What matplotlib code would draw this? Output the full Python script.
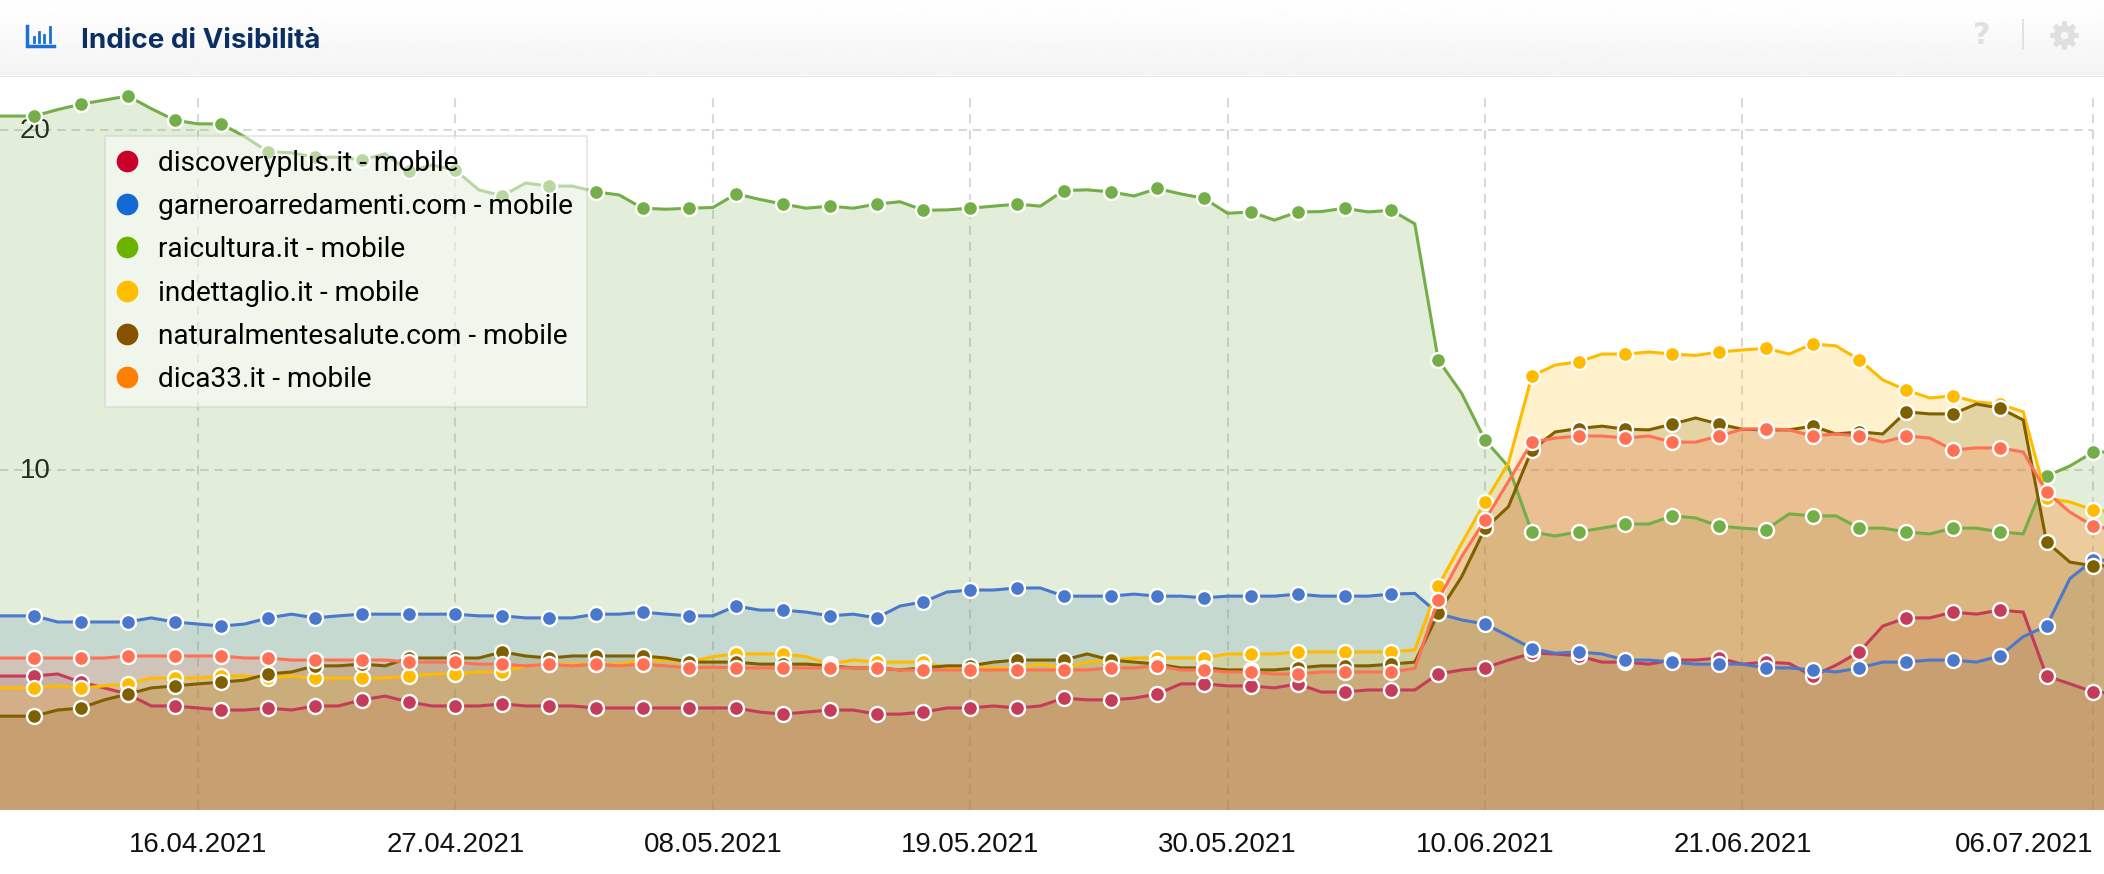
import numpy as np
import matplotlib
matplotlib.use('Agg')
import matplotlib.pyplot as plt
import matplotlib.dates as mdates
from matplotlib.lines import Line2D
from matplotlib.transforms import ScaledTranslation

W, H = 2104, 874
plt.rcParams['lines.scale_dashes'] = False

title = 'Indice di Visibilità'
series_names = ['discoveryplus.it - mobile', 'garneroarredamenti.com - mobile', 'raicultura.it - mobile',
                'indettaglio.it - mobile', 'naturalmentesalute.com - mobile', 'dica33.it - mobile']
line_colors = ['#c43c5a', '#4a78cc', '#74ae48', '#ffbb00', '#7f6000', '#ff7055']
legend_colors = ['#c8002a', '#1469d2', '#6cb200', '#ffbf00', '#875200', '#ff8000']
tick_dates = ['2021-04-16', '2021-04-27', '2021-05-08', '2021-05-19', '2021-05-30', '2021-06-10', '2021-06-21', '2021-07-06']
tick_labels = ['16.04.2021', '27.04.2021', '08.05.2021', '19.05.2021', '30.05.2021', '10.06.2021', '21.06.2021', '06.07.2021']
y_ticks = [10, 20]

dates = np.arange(np.datetime64('2021-04-07'), np.datetime64('2021-07-08'))

discoveryplus = [3.94,3.94,3.94,4.0,3.76,3.59,3.41,3.06,3.06,3.0,
    2.94,2.94,3.0,2.94,3.06,3.06,3.24,3.35,3.18,3.06,
    3.06,3.06,3.12,3.06,3.06,3.06,3.0,3.0,3.0,3.0,
    3.0,3.0,3.0,2.88,2.82,2.88,2.94,2.94,2.82,2.82,
    2.88,3.0,3.0,3.06,3.0,3.06,3.29,3.24,3.24,3.29,
    3.41,3.71,3.71,3.65,3.65,3.59,3.71,3.47,3.47,3.53,
    3.53,3.53,4.0,4.12,4.18,4.41,4.61,4.59,4.53,4.35,
    4.35,4.29,4.41,4.41,4.47,4.29,4.35,4.31,3.94,4.26,
    4.65,5.41,5.65,5.65,5.82,5.76,5.88,5.82,3.94,3.71,
    3.47,3.43]
garnero = [5.71,5.71,5.71,5.53,5.53,5.53,5.53,5.65,5.53,5.47,
    5.41,5.47,5.65,5.76,5.65,5.71,5.76,5.76,5.76,5.76,
    5.76,5.71,5.71,5.65,5.65,5.65,5.76,5.76,5.82,5.76,
    5.71,5.71,6.0,5.88,5.88,5.82,5.71,5.76,5.65,6.0,
    6.12,6.41,6.47,6.47,6.53,6.53,6.29,6.29,6.29,6.35,
    6.29,6.29,6.24,6.29,6.29,6.29,6.35,6.29,6.29,6.29,
    6.35,6.37,5.78,5.59,5.47,5.12,4.75,4.61,4.65,4.59,
    4.41,4.41,4.35,4.29,4.29,4.29,4.18,4.18,4.12,4.06,
    4.18,4.35,4.35,4.41,4.41,4.35,4.53,5.10,5.41,6.81,
    7.35,7.35]
raicultura = [20.41,20.41,20.41,20.6,20.76,20.88,21.0,20.63,20.29,20.18,
    20.18,19.8,19.36,19.33,19.2,19.2,19.12,19.3,18.78,18.97,
    18.82,18.24,18.06,18.44,18.35,18.35,18.18,18.09,17.7,17.67,
    17.7,17.72,18.12,17.96,17.82,17.7,17.76,17.7,17.82,17.89,
    17.64,17.65,17.7,17.76,17.82,17.76,18.22,18.24,18.18,18.06,
    18.28,18.12,17.99,17.55,17.59,17.35,17.59,17.6,17.7,17.59,
    17.64,17.24,13.24,12.26,10.88,10.1,8.18,8.06,8.18,8.29,
    8.41,8.41,8.65,8.59,8.35,8.29,8.24,8.71,8.65,8.65,
    8.29,8.29,8.18,8.12,8.29,8.29,8.18,8.12,9.82,10.12,
    10.53,10.53]
indettaglio = [3.59,3.59,3.59,3.65,3.59,3.65,3.71,3.88,3.88,3.88,
    3.94,3.94,3.88,3.94,3.88,3.88,3.88,3.88,3.94,4.0,
    4.0,4.06,4.06,4.24,4.29,4.29,4.29,4.29,4.41,4.41,
    4.35,4.51,4.59,4.59,4.59,4.51,4.29,4.41,4.35,4.35,
    4.35,4.18,4.18,4.18,4.18,4.29,4.18,4.35,4.41,4.47,
    4.47,4.47,4.47,4.59,4.59,4.59,4.65,4.65,4.65,4.65,
    4.65,4.71,6.59,7.84,9.06,10.2,12.76,13.09,13.18,13.41,
    13.41,13.47,13.41,13.37,13.47,13.53,13.58,13.41,13.71,13.65,
    13.24,12.65,12.35,12.12,12.18,12.0,11.94,11.71,9.17,9.06,
    8.82,8.76]
naturalmente = [2.76,2.76,2.76,2.94,3.0,3.24,3.41,3.59,3.65,3.71,
    3.76,3.82,4.0,4.06,4.24,4.24,4.29,4.24,4.47,4.47,
    4.47,4.47,4.65,4.53,4.47,4.53,4.53,4.53,4.53,4.47,
    4.35,4.35,4.35,4.29,4.29,4.29,4.24,4.18,4.18,4.12,
    4.18,4.24,4.24,4.35,4.41,4.41,4.41,4.59,4.41,4.35,
    4.29,4.18,4.18,4.12,4.12,4.12,4.18,4.24,4.24,4.24,
    4.29,4.35,5.78,6.86,8.28,8.92,10.59,11.12,11.22,11.29,
    11.2,11.18,11.35,11.53,11.35,11.2,11.18,11.18,11.29,11.06,
    11.12,11.06,11.71,11.65,11.65,11.94,11.82,11.47,7.88,7.29,
    7.18,7.18]
dica33 = [4.47,4.47,4.47,4.47,4.47,4.47,4.53,4.53,4.53,4.53,
    4.53,4.47,4.47,4.41,4.41,4.41,4.41,4.41,4.35,4.35,
    4.35,4.29,4.29,4.24,4.29,4.24,4.29,4.24,4.29,4.24,
    4.18,4.2,4.18,4.18,4.18,4.18,4.18,4.18,4.18,4.12,
    4.12,4.12,4.12,4.12,4.12,4.12,4.12,4.12,4.18,4.18,
    4.24,4.12,4.12,4.06,4.06,4.0,4.0,4.06,4.06,4.06,
    4.06,4.17,6.18,7.45,8.53,9.66,10.82,10.94,11.0,11.0,
    10.94,11.0,10.82,10.82,11.0,11.2,11.22,11.18,11.0,11.06,
    11.0,10.82,11.0,10.94,10.59,10.65,10.65,10.53,9.35,8.76,
    8.35,8.24]
all_series = [discoveryplus, garnero, raicultura, indettaglio, naturalmente, dica33]

fig = plt.figure(figsize=(W / 100, H / 100), dpi=100, facecolor='white')
top_px, bottom_px = 96, 810
ax = fig.add_axes([0, 1 - bottom_px / H, 1, (bottom_px - top_px) / H])
ax.set_facecolor('none')

t = mdates.date2num(dates)
px_per_day = 23.4
t16 = mdates.date2num(np.datetime64('2021-04-16'))
ax.set_xlim(t16 - 198 / px_per_day, t16 + (W - 198) / px_per_day)
ax.set_ylim(0, (bottom_px - top_px) / 34)

tick_pos = mdates.date2num(np.array(tick_dates, dtype='datetime64[D]'))
ax.vlines(tick_pos, 0, ax.get_ylim()[1], colors='#d8d8d8', linewidth=1.5,
          linestyles=[(0, (6.5, 5))], zorder=0.5)
ax.hlines(y_ticks, ax.get_xlim()[0], tick_pos[-1], colors='#d8d8d8', linewidth=1.5,
          linestyles=[(0, (6, 4.3))], zorder=0.5)

for vals, c, z in zip(all_series, line_colors, range(6)):
    ax.fill_between(t, vals, 0, color=c, alpha=0.2, linewidth=0, zorder=1 + z * 0.01)
for vals, c, z in zip(all_series, line_colors, range(6)):
    ax.plot(t, vals, color=c, lw=2.2, marker='o', markevery=(2, 2), ms=10.8, mfc=c, mec='white',
            mew=1.7, zorder=2 + z * 0.01, clip_on=False, solid_joinstyle='miter')

for s in ax.spines.values():
    s.set_visible(False)
ax.set_xticks(tick_pos)
ax.set_xticklabels(tick_labels, fontfamily='Liberation Sans', fontsize=19.9, color='#111111')
ax.get_xticklabels()[-1].set_ha('right')
ax.tick_params(axis='x', length=0, pad=15.5)
ax.set_yticks(y_ticks)
ax.set_yticklabels([str(v) for v in y_ticks], fontfamily='Liberation Sans', fontsize=19.9, color='#111111')
ax.tick_params(axis='y', length=0, pad=-14)
for l in ax.get_yticklabels():
    l.set_ha('left')
    l.set_transform(l.get_transform() + ScaledTranslation(0, 2 / 100, fig.dpi_scale_trans))
ax.set_axisbelow(True)

handles = [Line2D([], [], ls='none', marker='o', ms=14.6, mfc=c, mec=c) for c in legend_colors]
leg = ax.legend(handles, series_names, loc='upper left', bbox_to_anchor=(105 / W, 1 - (136 - top_px) / (bottom_px - top_px)),
                prop={'family': 'Roboto', 'size': 20.2}, framealpha=0.5, facecolor='white', edgecolor='#cccccc',
                fancybox=False, borderaxespad=0, labelspacing=0.58, handletextpad=0.81, handlelength=0.6,
                borderpad=0.49)
leg.get_frame().set_linewidth(1.2)

# header band and icons, in pixel coordinates
ov = fig.add_axes([0, 0, 1, 1], zorder=10)
ov.axis('off')
grad = np.linspace(1.0, 0.955, 64)[:, None]
ov.imshow(grad, extent=(0, W, 75, 0), cmap='gray', vmin=0, vmax=1, aspect='auto', zorder=1)
ov.set_xlim(0, W)
ov.set_ylim(H, 0)
ov.plot([0, W], [75.5, 75.5], color='#e8e8e8', lw=0.8, zorder=2)
ov.text(81, 41, title, fontfamily='Inter', fontweight='bold', fontsize=20, color='#0b2e63', va='center', ha='left', zorder=3)

blue = '#1a6fd8'
ov.plot([27, 27, 54], [26, 46, 46], color=blue, lw=2.5, solid_joinstyle='miter', zorder=3)
for bx, by in zip([34, 39, 44, 50], [37, 32, 35, 27]):
    ov.plot([bx, bx], [by, 42], color=blue, lw=2.0, zorder=3)

ov.text(1982, 35, '?', fontfamily='DejaVu Sans', fontweight='bold', fontsize=22, color='#e0e0e0', ha='center', va='center', zorder=3)
ov.plot([2023, 2023], [20, 49], color='#e2e2e2', lw=1.4, zorder=3)
# gear: toothed ring drawn from markers
ov.plot([2064], [35], marker='o', ms=15, mfc='#e0e0e0', mec='none', zorder=3)
ov.plot([2064], [35], marker=(8, 2, 0), ms=20, mec='#e0e0e0', mew=3.6, zorder=3)
ov.plot([2064], [35], marker='o', ms=5.5, mfc='#f7f7f7', mec='none', zorder=4)

fig.savefig('out.png', dpi=100)
